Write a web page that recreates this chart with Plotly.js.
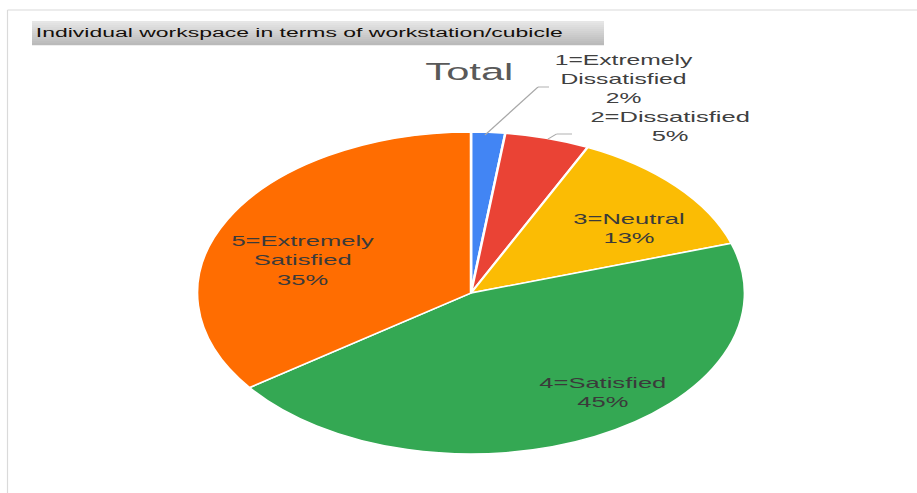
<!DOCTYPE html>
<html>
<head>
<meta charset="utf-8">
<script src="https://cdn.plot.ly/plotly-3.0.1.min.js"></script>
<style>
  html, body { margin: 0; padding: 0; background: #ffffff; }
  #wrap { width: 917px; height: 493px; overflow: hidden; position: relative; }
  #chart { width: 539px; height: 493px; transform: scaleX(1.70130); transform-origin: 0 0; }
</style>
</head>
<body>
<div id="wrap"><div id="chart"></div></div>
<script>
// ---- data ----
const chartTitle = "Individual workspace in terms of workstation/cubicle";
const pieTitle = "Total";
const categories = ["1=Extremely Dissatisfied", "2=Dissatisfied", "3=Neutral", "4=Satisfied", "5=Extremely Satisfied"];
const shares = [2, 5, 13, 45, 35];

// ---- styles / layout (pixel positions in the 917x493 picture) ----
const W = 917, H = 493;
const sliceColors = ["#4285F4", "#EA4335", "#FBBC04", "#34A853", "#FF6D01"];
const labelPlacement = [
  {x: 624, y: 78.5, size: 14.5, color: "#404040"},
  {x: 671, y: 127.0, size: 15, color: "#404040"},
  {x: 629, y: 228.2, size: 15, color: "#3a3a3a"},
  {x: 603, y: 392.7, size: 15, color: "#3a3a3a"},
  {x: 302.5, y: 259.7, size: 15, color: "#3a3a3a"}
];
const leaderLines = [
  [[485, 135], [538, 87], [549, 87]],
  [[548, 139], [556.5, 134], [572, 134]]
];
const pieCenter = {x: 471, y: 293}, pieRy = 161;
const labelFamily = "Liberation Sans, Arial, sans-serif";

const X = px => px / W;
const Y = py => 1 - py / H;
const plotW = 539;

// pie domain: circle of radius pieRy (unstretched) around pieCenter
const halfW = pieRy / plotW, halfH = pieRy / H;
const dom = {
  x: [X(pieCenter.x) - halfW, X(pieCenter.x) + halfW],
  y: [Y(pieCenter.y) - halfH, Y(pieCenter.y) + halfH]
};

const total = shares.reduce((a, b) => a + b, 0);
const annotations = [];
const shapes = [];

// frame lines
shapes.push({type: "line", xref: "paper", yref: "paper", x0: X(7.5), x1: 1, y0: Y(10), y1: Y(10), line: {color: "#dadada", width: 1.2}});
shapes.push({type: "line", xref: "paper", yref: "paper", x0: X(7.5), x1: X(7.5), y0: Y(10), y1: 0, line: {color: "#dadada", width: 0.7}});

// title bar with a vertical gradient made of bands
const bandTop = 21, bandBot = 45, nb = 12;
const c0 = [230, 230, 230], c1 = [186, 186, 186];
for (let i = 0; i < nb; i++) {
  const t = i / (nb - 1);
  const c = c0.map((v, k) => Math.round(v + (c1[k] - v) * t));
  const ya = bandTop + (bandBot - bandTop) * i / nb;
  const yb = bandTop + (bandBot - bandTop) * (i + 1) / nb;
  shapes.push({type: "rect", xref: "paper", yref: "paper", layer: "below",
    x0: X(32), x1: X(604), y0: Y(yb + 0.3), y1: Y(ya),
    fillcolor: `rgb(${c[0]},${c[1]},${c[2]})`, line: {width: 0}});
}
annotations.push({xref: "paper", yref: "paper", x: X(33), y: Y(33), xanchor: "left", yanchor: "middle",
  text: chartTitle, showarrow: false, font: {family: "Liberation Sans, Arial, sans-serif", size: 13.5, color: "#140f0a"}});

// pie title
annotations.push({xref: "paper", yref: "paper", x: X(470), y: Y(71.5), xanchor: "center", yanchor: "middle",
  text: pieTitle, showarrow: false, font: {family: "Liberation Sans, Arial, sans-serif", size: 24.5, color: "#595959"}});

// slice labels: wrapped category + percentage
categories.forEach((cat, i) => {
  const lines = cat.split(" ");
  lines.push(Math.round(shares[i] / total * 100) + "%");
  const p = labelPlacement[i];
  annotations.push({xref: "paper", yref: "paper", x: X(p.x), y: Y(p.y),
    xanchor: "center", yanchor: "middle", align: "center", text: lines.join("<br>"), showarrow: false,
    font: {family: labelFamily, size: p.size, color: p.color}});
});

// leader lines
leaderLines.forEach(pts => {
  for (let k = 0; k < pts.length - 1; k++) {
    shapes.push({type: "line", xref: "paper", yref: "paper",
      x0: X(pts[k][0]), y0: Y(pts[k][1]), x1: X(pts[k + 1][0]), y1: Y(pts[k + 1][1]),
      line: {color: "#a8a8a8", width: 0.9}});
  }
});

const trace = {
  type: "pie",
  labels: categories,
  values: shares,
  sort: false,
  direction: "clockwise",
  rotation: 0,
  textinfo: "none",
  hoverinfo: "none",
  showlegend: false,
  domain: dom,
  marker: {colors: sliceColors, line: {color: "#ffffff", width: 1.5}}
};

const layout = {
  width: plotW,
  height: H,
  margin: {l: 0, r: 0, t: 0, b: 0, pad: 0},
  paper_bgcolor: "#ffffff",
  plot_bgcolor: "#ffffff",
  showlegend: false,
  shapes: shapes,
  annotations: annotations
};

Plotly.newPlot("chart", [trace], layout, {displayModeBar: false, staticPlot: true});
</script>
</body>
</html>
